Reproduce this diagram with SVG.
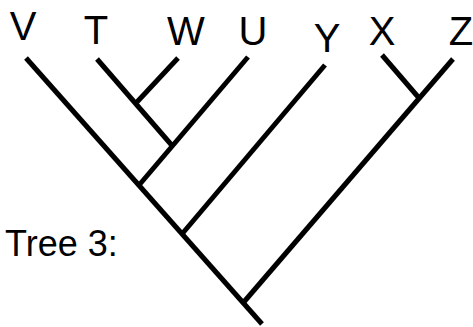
<svg xmlns="http://www.w3.org/2000/svg" width="473" height="327" viewBox="0 0 473 327">
<style>
.lbl{font-family:"Liberation Sans",Arial,sans-serif;font-size:40px;fill:#000;text-anchor:middle}
.ttl{font-family:"Liberation Sans",Arial,sans-serif;font-size:36px;fill:#000}
.br{stroke:#000;stroke-width:5;fill:none;stroke-linecap:butt}
</style>
<rect width="473" height="327" fill="#fff"/>
<g id="connectors">
<line class="br" x1="26" y1="58" x2="262" y2="324"/>
<line class="br" x1="97" y1="59" x2="172" y2="145.5"/>
<line class="br" x1="178" y1="58" x2="137" y2="102"/>
<line class="br" x1="248" y1="57" x2="140" y2="184"/>
<line class="br" x1="325" y1="65" x2="182" y2="234"/>
<line class="br" x1="382" y1="55" x2="419" y2="98"/>
<line class="br" x1="453" y1="59" x2="243" y2="303"/>
</g>
<g id="node-V"><text class="lbl" x="23" y="40">V</text></g>
<g id="node-T"><text class="lbl" x="96" y="44">T</text></g>
<g id="node-W"><text class="lbl" x="186" y="45">W</text></g>
<g id="node-U"><text class="lbl" x="253" y="45">U</text></g>
<g id="node-Y"><text class="lbl" x="327" y="52">Y</text></g>
<g id="node-X"><text class="lbl" x="382" y="45">X</text></g>
<g id="node-Z"><text class="lbl" x="461" y="45">Z</text></g>
<g id="title"><text class="ttl" x="5" y="256">Tree 3:</text></g>
</svg>
